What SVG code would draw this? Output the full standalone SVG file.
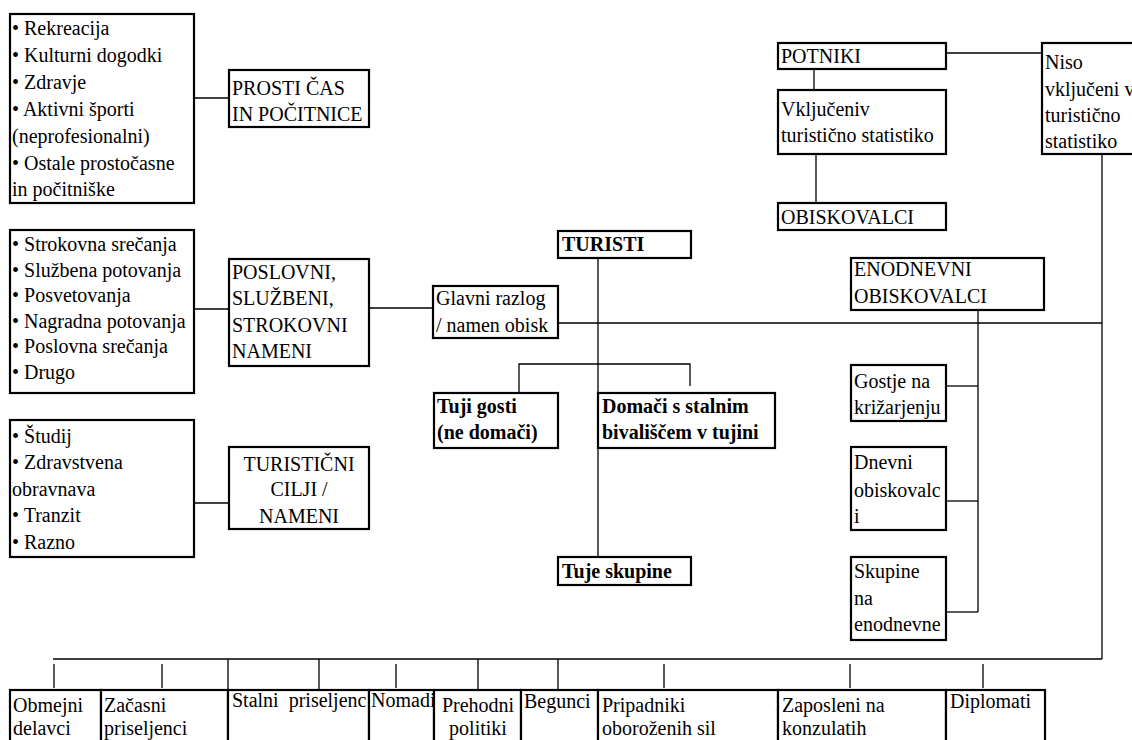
<svg xmlns="http://www.w3.org/2000/svg" width="1132" height="740" viewBox="0 0 1132 740">
<style>
.b{fill:#fff;stroke:#000;stroke-width:2.2}
.l{fill:none;stroke:#000;stroke-width:1.3}
text{font-family:"Liberation Serif","Times New Roman",serif;font-size:20px;fill:#000}
.bd{font-weight:bold}
.c{text-anchor:middle}
</style>
<rect width="1132" height="740" fill="#fff"/>
<g id="connectors">
<path class="l" d="M194 98H229"/>
<path class="l" d="M194 309H229"/>
<path class="l" d="M194 503H229"/>
<path class="l" d="M369 308H433"/>
<path class="l" d="M558 323H1102"/>
<path class="l" d="M598 258V557"/>
<path class="l" d="M519 392V364H690V386"/>
<path class="l" d="M946 53H1042"/>
<path class="l" d="M814 69V90"/>
<path class="l" d="M816 154V203"/>
<path class="l" d="M1102 154V659"/>
<path class="l" d="M978 310V612"/>
<path class="l" d="M946 386H978"/>
<path class="l" d="M946 501H978"/>
<path class="l" d="M946 612H978"/>
<path class="l" d="M53 659H1102"/>
<path class="l" d="M54 664V688M162 664V688M396 664V688M664 664V688M850 664V688M983 664V688"/>
<path class="l" d="M228 659V690M319 659V692M478 659V690M558 659V690"/>
</g>
<g id="n-leisure-list">
<rect class="b" x="10" y="14" width="184" height="189"/>
<text x="12" y="35">• Rekreacija</text>
<text x="12" y="62">• Kulturni dogodki</text>
<text x="12" y="89">• Zdravje</text>
<text x="12" y="116">• Aktivni športi</text>
<text x="12" y="143">(neprofesionalni)</text>
<text x="12" y="170">• Ostale prostočasne</text>
<text x="12" y="196">in počitniške</text>
</g>
<g id="n-prosti">
<rect class="b" x="229" y="70" width="140" height="57"/>
<text x="232" y="95">PROSTI ČAS</text>
<text x="232" y="121">IN POČITNICE</text>
</g>
<g id="n-business-list">
<rect class="b" x="10" y="230" width="184" height="163"/>
<text x="12" y="251">• Strokovna srečanja</text>
<text x="12" y="277">• Službena potovanja</text>
<text x="12" y="302">• Posvetovanja</text>
<text x="12" y="328">• Nagradna potovanja</text>
<text x="12" y="353">• Poslovna srečanja</text>
<text x="12" y="379">• Drugo</text>
</g>
<g id="n-poslovni">
<rect class="b" x="229" y="259" width="140" height="107"/>
<text x="232" y="279">POSLOVNI,</text>
<text x="232" y="305">SLUŽBENI,</text>
<text x="232" y="332">STROKOVNI</text>
<text x="232" y="358">NAMENI</text>
</g>
<g id="n-other-list">
<rect class="b" x="10" y="420" width="184" height="137"/>
<text x="12" y="443">• Študij</text>
<text x="12" y="469">• Zdravstvena</text>
<text x="12" y="496">obravnava</text>
<text x="12" y="522">• Tranzit</text>
<text x="12" y="549">• Razno</text>
</g>
<g id="n-turisticni">
<rect class="b" x="229" y="447" width="140" height="82"/>
<text class="c" x="299" y="471">TURISTIČNI</text>
<text class="c" x="299" y="496">CILJI /</text>
<text class="c" x="299" y="523">NAMENI</text>
</g>
<g id="n-glavni">
<rect class="b" x="433" y="286" width="125" height="52"/>
<text x="436" y="305">Glavni razlog</text>
<text x="436" y="332">/ namen obisk</text>
</g>
<g id="n-turisti">
<rect class="b" x="558" y="231" width="133" height="27"/>
<text class="bd" x="562" y="251">TURISTI</text>
</g>
<g id="n-tuji-gosti">
<rect class="b" x="434" y="393" width="124" height="55"/>
<text class="bd" x="437" y="413">Tuji gosti</text>
<text class="bd" x="437" y="439">(ne domači)</text>
</g>
<g id="n-domaci">
<rect class="b" x="598" y="393" width="177" height="55"/>
<text class="bd" x="602" y="413">Domači s stalnim</text>
<text class="bd" x="602" y="439">bivališčem v tujini</text>
</g>
<g id="n-tuje-skupine">
<rect class="b" x="558" y="557" width="133" height="28"/>
<text class="bd" x="562" y="578">Tuje skupine</text>
</g>
<g id="n-potniki">
<rect class="b" x="778" y="43" width="168" height="26"/>
<text x="781" y="63">POTNIKI</text>
</g>
<g id="n-niso">
<rect class="b" x="1042" y="43" width="100" height="111"/>
<text x="1045" y="69">Niso</text>
<text x="1045" y="96">vključeni v</text>
<text x="1045" y="122">turistično</text>
<text x="1045" y="148">statistiko</text>
</g>
<g id="n-vkljuceni">
<rect class="b" x="778" y="90" width="168" height="64"/>
<text x="781" y="116">Vključeniv</text>
<text x="781" y="142">turistično statistiko</text>
</g>
<g id="n-obiskovalci">
<rect class="b" x="778" y="203" width="168" height="27"/>
<text x="781" y="224">OBISKOVALCI</text>
</g>
<g id="n-enodnevni">
<rect class="b" x="851" y="258" width="193" height="52"/>
<text x="854" y="276">ENODNEVNI</text>
<text x="854" y="303">OBISKOVALCI</text>
</g>
<g id="n-gostje">
<rect class="b" x="851" y="365" width="95" height="56"/>
<text x="854" y="388">Gostje na</text>
<text x="854" y="414">križarjenju</text>
</g>
<g id="n-dnevni">
<rect class="b" x="851" y="447" width="95" height="83"/>
<text x="854" y="469">Dnevni</text>
<text x="854" y="497">obiskovalc</text>
<text x="854" y="523">i</text>
</g>
<g id="n-skupine">
<rect class="b" x="851" y="557" width="95" height="83"/>
<text x="854" y="578">Skupine</text>
<text x="854" y="605">na</text>
<text x="854" y="631">enodnevne</text>
</g>
<g id="n-obmejni">
<rect class="b" x="10" y="690" width="91" height="70"/>
<text x="13" y="712">Obmejni</text>
<text x="13" y="735">delavci</text>
</g>
<g id="n-zacasni">
<rect class="b" x="101" y="690" width="127" height="70"/>
<text x="104" y="712">Začasni</text>
<text x="104" y="735">priseljenci</text>
</g>
<g id="n-stalni">
<rect class="b" x="228" y="690" width="141" height="70"/>
<text x="232" y="707" xml:space="preserve">Stalni  priseljenc</text>
</g>
<g id="n-nomadi">
<rect class="b" x="369" y="690" width="65" height="70"/>
<text x="371" y="707">Nomadi</text>
</g>
<g id="n-prehodni">
<rect class="b" x="434" y="690" width="87" height="70"/>
<text class="c" x="478" y="712">Prehodni</text>
<text class="c" x="478" y="735">politiki</text>
</g>
<g id="n-begunci">
<rect class="b" x="521" y="690" width="77" height="70"/>
<text x="524" y="708">Begunci</text>
</g>
<g id="n-pripadniki">
<rect class="b" x="598" y="690" width="180" height="70"/>
<text x="602" y="712">Pripadniki</text>
<text x="602" y="735">oboroženih sil</text>
</g>
<g id="n-zaposleni">
<rect class="b" x="778" y="690" width="168" height="70"/>
<text x="782" y="712">Zaposleni na</text>
<text x="782" y="735">konzulatih</text>
</g>
<g id="n-diplomati">
<rect class="b" x="946" y="690" width="99" height="70"/>
<text x="950" y="708">Diplomati</text>
</g>
</svg>
